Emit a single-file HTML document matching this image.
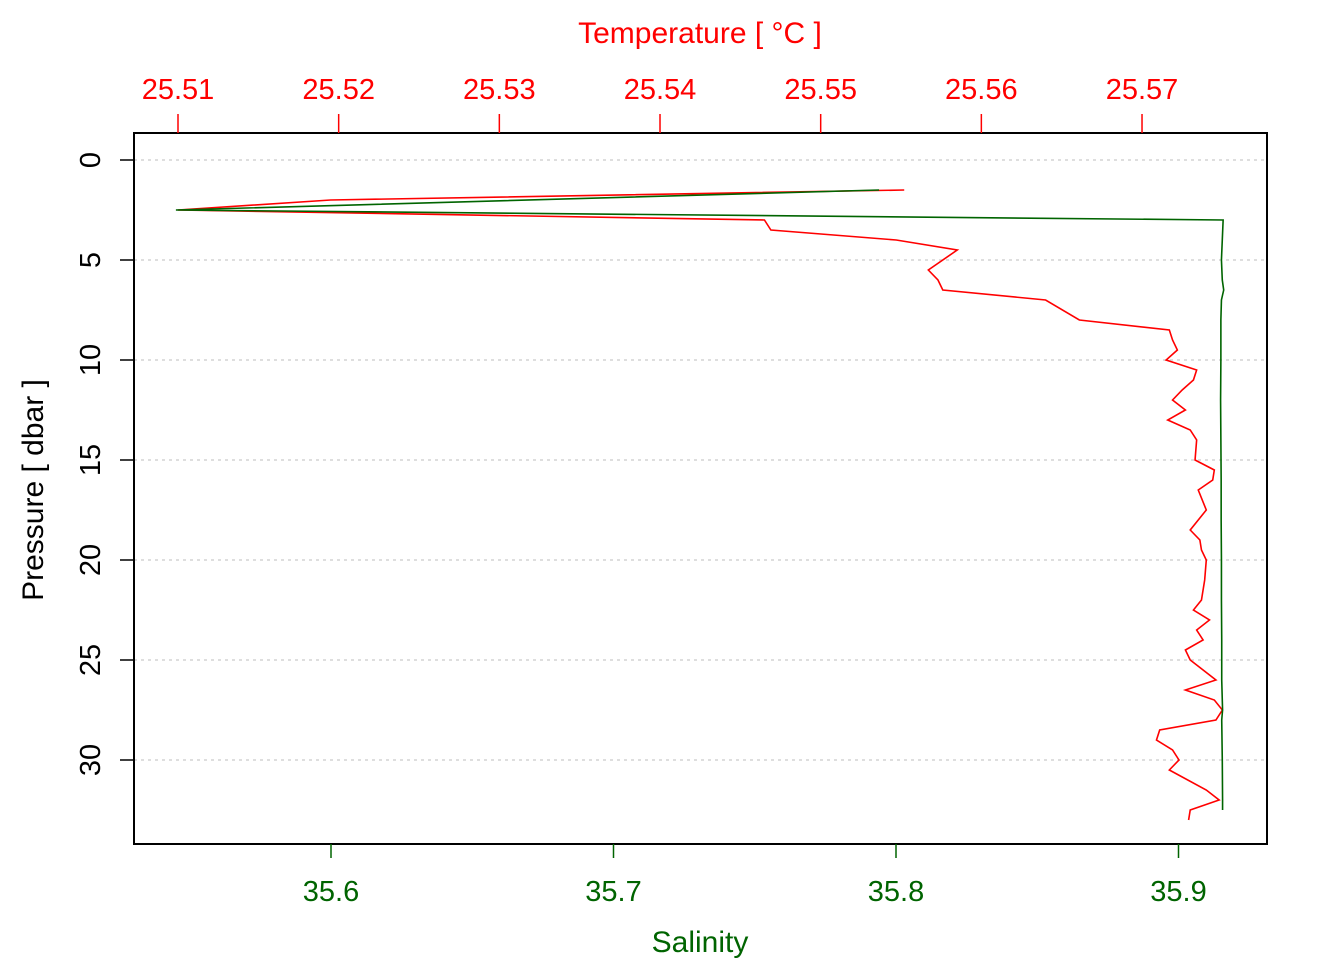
<!DOCTYPE html>
<html><head><meta charset="utf-8"><style>
body{margin:0;background:#fff}
svg{display:block;font-family:"Liberation Sans",Arial,sans-serif}
</style></head><body>
<svg id="chart" width="1344" height="960"></svg>
<script>
const pressureT=[1.5,2,2.5,3,3.5,4,4.5,5.5,6,6.5,7,8,8.5,9,9.5,10,10.5,11,11.5,12,12.5,13,13.5,14,15,15.5,16,16.5,17.5,18.5,19,19.5,20,21,22,22.5,23,23.5,24,24.5,25,26,26.5,27,27.5,28,28.5,29,29.5,30,30.5,31.5,32,32.5,33];
const temperature=[25.5552,25.5195,25.5100,25.5465,25.5469,25.5547,25.5585,25.5567,25.5573,25.5576,25.5640,25.5661,25.5717,25.5719,25.5722,25.5715,25.5734,25.5732,25.5725,25.5719,25.5727,25.5716,25.5730,25.5734,25.5733,25.5745,25.5744,25.5735,25.5740,25.5730,25.5736,25.5737,25.5740,25.5739,25.5737,25.5732,25.5742,25.5734,25.5738,25.5727,25.5730,25.5746,25.5727,25.5745,25.5750,25.5746,25.5711,25.5709,25.5719,25.5723,25.5717,25.5740,25.5748,25.5730,25.5729];
const pressureS=[1.5,2.5,3,4,5,6,6.5,7,8,10,12,14,16,18,20,22,24,26,27.5,28,30,32,32.5];
const salinity=[35.794,35.5451,35.9158,35.9155,35.9152,35.9155,35.9160,35.9152,35.9150,35.9150,35.9149,35.9150,35.9151,35.9151,35.9152,35.9152,35.9153,35.9153,35.9156,35.9153,35.9155,35.9156,35.9156];
const pTicks=[0,5,10,15,20,25,30];
const sTicks=[35.6,35.7,35.8,35.9];
const tTicks=[25.51,25.52,25.53,25.54,25.55,25.56,25.57];

const NS="http://www.w3.org/2000/svg";
const svg=document.getElementById('chart');
const L=134,R=1267,T=133,B=844;
const yP=p=>160+20*p;
const xS=s=>331+(s-35.6)*2825;
const xT=t=>178+(t-25.51)*16067;
function mk(tag,attrs,parent){const e=document.createElementNS(NS,tag);for(const k in attrs)e.setAttribute(k,attrs[k]);(parent||svg).appendChild(e);return e;}
function txt(x,y,s,fill,size,extra){const e=mk('text',Object.assign({x:x,y:y,fill:fill,'font-size':size,'text-anchor':'middle'},extra||{}));e.textContent=s;return e;}

pTicks.forEach(p=>{const g=mk('line',{x1:L,x2:R,y1:yP(p),y2:yP(p),stroke:'#d3d3d3','stroke-width':1.5,'stroke-dasharray':'3 4'});

});

const tl=mk('polyline',{points:pressureT.map((p,i)=>xT(temperature[i])+','+yP(p)).join(' '),fill:'none',stroke:'#ff0000','stroke-width':1.6});


const sl=mk('polyline',{points:pressureS.map((p,i)=>xS(salinity[i])+','+yP(p)).join(' '),fill:'none',stroke:'#006400','stroke-width':1.6});



const fr=mk('rect',{x:L,y:T,width:R-L,height:B-T,fill:'none',stroke:'#000','stroke-width':2});



pTicks.forEach(p=>{mk('line',{x1:L,x2:L-14,y1:yP(p),y2:yP(p),stroke:'#000','stroke-width':1.5});
const t=txt(100,yP(p),String(p),'#000',29,{transform:`rotate(-90 100 ${yP(p)})`});

});
const yt=txt(43,490,'Pressure [ dbar ]','#000',30,{transform:'rotate(-90 43 490)'});



sTicks.forEach(s=>{mk('line',{x1:xS(s),x2:xS(s),y1:B,y2:B+14,stroke:'#006400','stroke-width':1.5});
const t=txt(xS(s),901,s.toFixed(1),'#006400',29);

});
const bt=txt(700,952,'Salinity','#006400',30);



tTicks.forEach(t0=>{mk('line',{x1:xT(t0),x2:xT(t0),y1:T,y2:T-19,stroke:'#ff0000','stroke-width':1.5});
const t=txt(xT(t0),99,t0.toFixed(2),'#ff0000',29);

});
const tt=txt(700,43,'Temperature [ °C ]','#ff0000',30);


</script>
</body></html>
